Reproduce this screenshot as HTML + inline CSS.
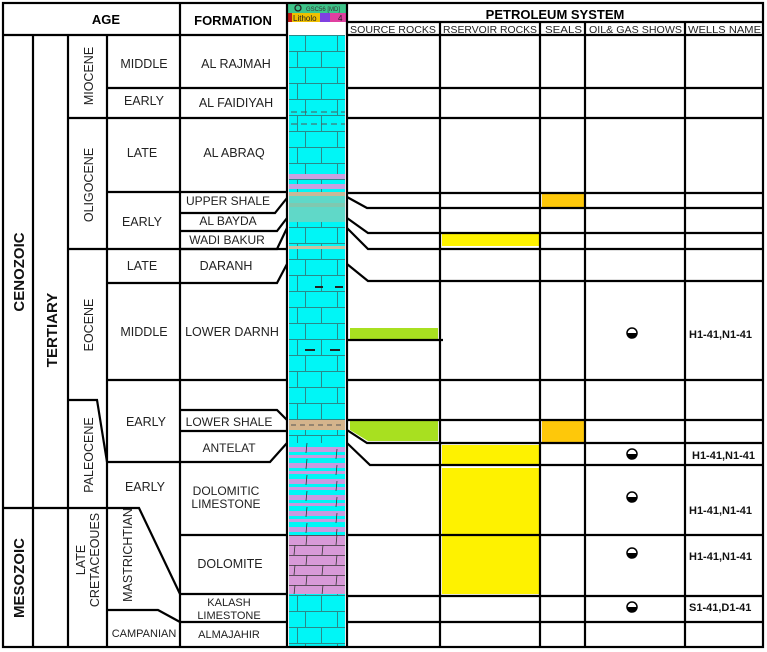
<!DOCTYPE html>
<html><head><meta charset="utf-8"><style>
html,body{margin:0;padding:0;background:#fff}
svg{display:block;font-family:"Liberation Sans",Arial,sans-serif}
</style></head><body>
<svg width="767" height="652" viewBox="0 0 767 652" xmlns="http://www.w3.org/2000/svg">
<defs>
<pattern id="brick" x="289" y="35" width="56" height="32" patternUnits="userSpaceOnUse">
<rect width="56" height="32" fill="#00f6f6"/>
<path d="M0 0.5H56M0 16.5H56M16.5 0V16M48.5 0V16M32.5 16V32M8.5 16V32" stroke="#2a8a8a" stroke-width="1" fill="none"/>
</pattern>
<pattern id="dolo" x="289" y="535" width="56" height="20" patternUnits="userSpaceOnUse">
<rect width="56" height="20" fill="#d89ad8"/>
<path d="M0 0.5H56M0 10.5H56M18 0L17 10M48 0L47 10M34 10L33 20M6 10L5 20" stroke="#333" stroke-width="0.8" fill="none"/>
</pattern>
<pattern id="mix" x="289" y="443" width="56" height="16" patternUnits="userSpaceOnUse">
<rect width="56" height="16" fill="#00f6f6"/>
<rect y="4" width="56" height="5" fill="#c99ae0"/>
<rect y="12" width="56" height="3" fill="#c99ae0"/>
<path d="M18 0L17 10M48 6L47 16" stroke="#333" stroke-width="0.8"/>
</pattern>
</defs>
<rect width="767" height="652" fill="#fff"/>
<rect x="289" y="35" width="56" height="612" fill="url(#brick)"/>
<rect x="289" y="174" width="56" height="5" fill="#c9a0e0"/>
<rect x="289" y="184" width="56" height="5" fill="#c9a0e0"/>
<rect x="289" y="192" width="56" height="4" fill="#c8b898"/>
<rect x="289" y="196" width="56" height="26" fill="#60d8c8"/>
<rect x="289" y="203" width="56" height="4" fill="#80c8b0"/>
<rect x="289" y="246" width="56" height="3" fill="#c8c0a0"/>
<rect x="289" y="420" width="56" height="10" fill="#d4b48c"/>
<path d="M291 425H345" stroke="#555" stroke-dasharray="5 4"/>
<rect x="289" y="443" width="56" height="92" fill="url(#mix)"/>
<rect x="289" y="535" width="56" height="59" fill="url(#dolo)"/>
<path d="M315 287h8M335 287h8M305 350h10M330 350h10" stroke="#222" stroke-width="2"/>
<path d="M291 112H345M291 124H345" stroke="#555" stroke-dasharray="6 4"/>
<rect x="288" y="3" width="58" height="10" fill="#3ec58a"/>
<circle cx="298" cy="8" r="3" fill="none" stroke="#222" stroke-width="1.3"/>
<text x="306" y="11" font-size="6" fill="#333">GSC56 [MD]</text>
<rect x="288" y="13" width="58" height="9" fill="#f0c000"/>
<rect x="288" y="13" width="4" height="9" fill="#c01818"/>
<rect x="320" y="13" width="10" height="9" fill="#8040e0"/>
<rect x="330" y="13" width="16" height="9" fill="#e040a0"/>
<text x="293" y="21" font-size="8" fill="#222">Litholo</text>
<text x="338" y="21" font-size="8" fill="#222">4</text>
<rect x="542" y="194" width="43" height="13" fill="#fec80a"/>
<rect x="542" y="421" width="43" height="21" fill="#fec80a"/>
<rect x="442" y="233" width="97" height="13" fill="#fef200"/>
<rect x="442" y="445" width="97" height="20" fill="#fef200"/>
<rect x="442" y="468" width="97" height="126" fill="#fef200"/>
<rect x="350" y="328" width="88" height="12" fill="#a8e020"/>
<polygon points="350,421 438,421 438,441 368,441 350,430" fill="#a8e020"/>
<g stroke="#000" stroke-width="2.2" fill="none">
<rect x="3" y="3" width="760" height="644"/>
<path d="M3 35H287M347 35H763M180 3V647M287 3V647M347 3V647M347 22H763"/>
<path d="M440 22V647M540 22V647M585 22V647M685 22V647"/>
<path d="M33 35V647M68 35V647M107 35V647"/>
<path d="M107 88H287M68 118H287M107 192H287M68 249H287M107 283H277L287 264M107 380H287M68 400H97L107 462"/>
<path d="M180 213H275L287 198M180 231H277L287 218M180 249H277L287 228"/>
<path d="M180 410H277L287 420M180 431H287M107 462H270L287 443"/>
<path d="M3 508H139L180 594M180 535H287M180 594H287M180 622H287M107 610H158L180 622"/>
<path d="M347 88H763M347 118H763M347 193H763M347 197L367 208H763M347 218L368 233H763M347 228L368 249H763M347 264L368 281H763"/>
<path d="M347 340H443M347 380H763M347 420H763M347 430L367 443H763M347 443L370 465H763M347 535H763M347 596H763M347 622H763"/>
</g>
<g font-weight="bold" font-size="13" text-anchor="middle">
<text x="106" y="24">AGE</text>
<text x="233" y="25">FORMATION</text>
<text x="555" y="19">PETROLEUM SYSTEM</text>
</g>
<g font-size="10.5" fill="#222">
<text x="350" y="33" textLength="86" lengthAdjust="spacingAndGlyphs">SOURCE ROCKS</text>
<text x="443" y="33" textLength="94" lengthAdjust="spacingAndGlyphs">RSERVOIR ROCKS</text>
<text x="545" y="33" textLength="37" lengthAdjust="spacingAndGlyphs">SEALS</text>
<text x="589" y="33" textLength="93" lengthAdjust="spacingAndGlyphs">OIL&amp; GAS SHOWS</text>
<text x="688" y="33" textLength="73" lengthAdjust="spacingAndGlyphs">WELLS NAME</text>
</g>
<g font-size="12.5" fill="#222" text-anchor="middle">
<text x="144" y="68">MIDDLE</text>
<text x="144" y="105">EARLY</text>
<text x="142" y="157">LATE</text>
<text x="142" y="226">EARLY</text>
<text x="142" y="270">LATE</text>
<text x="144" y="336">MIDDLE</text>
<text x="146" y="426">EARLY</text>
<text x="145" y="491">EARLY</text>
<text x="144" y="637" font-size="11">CAMPANIAN</text>
<text x="236" y="68">AL RAJMAH</text>
<text x="236" y="107">AL FAIDIYAH</text>
<text x="234" y="157">AL ABRAQ</text>
<text x="228" y="205" font-size="12">UPPER SHALE</text>
<text x="228" y="225" font-size="12">AL BAYDA</text>
<text x="227" y="244" font-size="12">WADI BAKUR</text>
<text x="226" y="270">DARANH</text>
<text x="232" y="336">LOWER DARNH</text>
<text x="229" y="426" font-size="12">LOWER SHALE</text>
<text x="229" y="452" font-size="12">ANTELAT</text>
<text x="226" y="495" font-size="12">DOLOMITIC</text>
<text x="226" y="508" font-size="12">LIMESTONE</text>
<text x="230" y="568">DOLOMITE</text>
<text x="229" y="606" font-size="11">KALASH</text>
<text x="229" y="619" font-size="11">LIMESTONE</text>
<text x="229" y="638" font-size="11">ALMAJAHIR</text>
</g>
<g font-size="12.5" fill="#222" text-anchor="middle">
<text transform="translate(93,76) rotate(-90)">MIOCENE</text>
<text transform="translate(93,185) rotate(-90)">OLIGOCENE</text>
<text transform="translate(93,325) rotate(-90)">EOCENE</text>
<text transform="translate(93,455) rotate(-90)">PALEOCENE</text>
<text transform="translate(85,560) rotate(-90)">LATE</text>
<text transform="translate(99,560) rotate(-90)">CRETACEOUES</text>
<text transform="translate(132,555) rotate(-90)">MASTRICHTIAN</text>
</g>
<g font-size="15" font-weight="bold" text-anchor="middle" fill="#111">
<text transform="translate(24,272) rotate(-90)">CENOZOIC</text>
<text transform="translate(24,578) rotate(-90)">MESOZOIC</text>
<text transform="translate(57,330) rotate(-90)">TERTIARY</text>
</g>
<g>
<g transform="translate(632,333)"><circle r="5" fill="#fff" stroke="#000" stroke-width="1.5"/><path d="M-5 0A5 5 0 0 0 5 0Z" fill="#000"/></g>
<g transform="translate(632,454)"><circle r="5" fill="#fff" stroke="#000" stroke-width="1.5"/><path d="M-5 0A5 5 0 0 0 5 0Z" fill="#000"/></g>
<g transform="translate(632,497)"><circle r="5" fill="#fff" stroke="#000" stroke-width="1.5"/><path d="M-5 0A5 5 0 0 0 5 0Z" fill="#000"/></g>
<g transform="translate(632,553)"><circle r="5" fill="#fff" stroke="#000" stroke-width="1.5"/><path d="M-5 0A5 5 0 0 0 5 0Z" fill="#000"/></g>
<g transform="translate(632,607)"><circle r="5" fill="#fff" stroke="#000" stroke-width="1.5"/><path d="M-5 0A5 5 0 0 0 5 0Z" fill="#000"/></g>
</g>
<g font-size="11" font-weight="bold" fill="#111">
<text x="689" y="338">H1-41,N1-41</text>
<text x="692" y="459">H1-41,N1-41</text>
<text x="689" y="514">H1-41,N1-41</text>
<text x="689" y="560">H1-41,N1-41</text>
<text x="689" y="611">S1-41,D1-41</text>
</g>
</svg>
</body></html>
